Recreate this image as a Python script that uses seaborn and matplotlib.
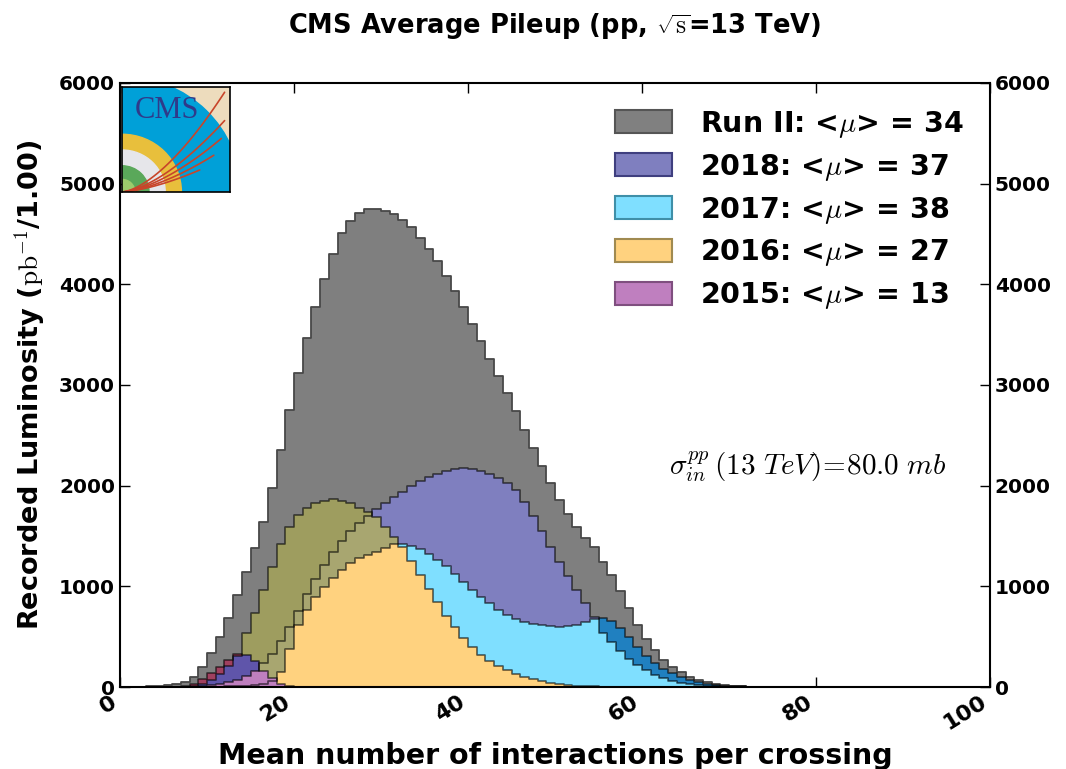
import numpy as np
import pandas as pd
import matplotlib
matplotlib.use("Agg")
import matplotlib.pyplot as plt
from matplotlib.patches import Patch, Wedge, Rectangle
import seaborn as sns

# recorded luminosity per pileup bin (bin width 1, starting at 0), pb^-1
run2 = [0, 1, 3, 6, 10, 16, 26, 45, 103, 195,
        334, 493, 682, 913, 1145, 1377, 1641, 1973, 2353, 2751,
        3121, 3463, 3770, 4052, 4300, 4505, 4628, 4711, 4747, 4750,
        4730, 4700, 4642, 4569, 4465, 4355, 4229, 4081, 3935, 3770,
        3604, 3435, 3263, 3088, 2916, 2741, 2552, 2377, 2198, 2029,
        1860, 1720, 1590, 1480, 1390, 1240, 1110, 950, 780, 620,
        480, 365, 270, 200, 145, 100, 70, 46, 30, 19,
        12, 8, 5, 3, 2, 1, 1, 1]
lumi_2018 = [0, 0, 0, 0, 0, 0, 0, 2, 5, 10,
             18, 30, 45, 70, 110, 160, 235, 330, 460, 600,
             760, 920, 1070, 1210, 1340, 1450, 1550, 1630, 1700, 1770,
             1830, 1890, 1940, 2000, 2045, 2085, 2120, 2145, 2165, 2172,
             2165, 2148, 2115, 2072, 2030, 1960, 1840, 1700, 1550, 1390,
             1240, 1100, 960, 830, 700, 540, 450, 360, 280, 215,
             165, 120, 88, 62, 43, 30, 20, 13, 8, 5,
             3, 2, 1]
lumi_2017 = [0, 0, 0, 0, 0, 0, 0, 0, 0, 0,
             2, 4, 6, 9, 14, 22, 35, 60, 150, 380,
             620, 765, 897, 996, 1079, 1162, 1228, 1278, 1311, 1344,
             1377, 1420, 1420, 1400, 1370, 1320, 1260, 1200, 1120, 1040,
             960, 890, 830, 770, 720, 680, 650, 630, 615, 605,
             600, 605, 620, 650, 680, 690, 660, 590, 500, 400,
             310, 240, 180, 135, 100, 70, 48, 32, 21, 14,
             9, 6, 4, 2, 1]
lumi_2016 = [0, 0, 0, 0, 0, 0, 0, 5, 15, 35,
             70, 130, 210, 310, 533, 738, 963, 1195, 1420, 1592,
             1708, 1781, 1830, 1850, 1864, 1850, 1830, 1774, 1741, 1688,
             1590, 1490, 1390, 1250, 1110, 970, 840, 710, 600, 490,
             400, 320, 260, 210, 165, 130, 100, 75, 55, 40,
             28, 20, 14, 10, 7, 5, 3, 2, 1]
lumi_2015 = [0, 0, 0, 0, 0, 0, 5, 15, 35, 75,
             135, 200, 270, 330, 320, 260, 160, 85, 35, 12,
             4, 1]

labels = ["Run II: <$\\mu$> = 34", "2018: <$\\mu$> = 37", "2017: <$\\mu$> = 38",
          "2016: <$\\mu$> = 27", "2015: <$\\mu$> = 13"]
legend_colors = ["#808080", "#7f7fbf", "#7fdfff", "#ffd27f", "#bf7fbf"]
legend_edges = ["#555555", "#3f3f7f", "#3f8fa8", "#a08a50", "#7f4f7f"]

nbins = 100
edges = np.arange(nbins + 1)
centers = edges[:-1] + 0.5


def pad(vals):
    out = np.zeros(nbins)
    out[:len(vals)] = vals
    return out


R = pad(run2)
years = {"A": pad(lumi_2018), "B": pad(lumi_2017), "C": pad(lumi_2016), "D": pad(lumi_2015)}

# colour of each overlap region (which years cover it)
combo_colors = {
    "A": "#7f7fbf", "B": "#2080c0", "AB": "#7fdfff",
    "C": "#9e9d5f", "AC": "#a8a670", "BC": "#c8aa66", "ABC": "#ffd27f",
    "D": "#a0405f", "AD": "#6a4f9f", "BD": "#6a4f9f", "CD": "#5f55aa",
    "ABD": "#bf7fbf", "ACD": "#bf7fbf", "BCD": "#bf7fbf", "ABCD": "#bf7fbf",
}

sns.set_style("ticks")
plt.rcParams["mathtext.fontset"] = "cm"
plt.rcParams["font.family"] = ["DejaVu Sans"]
plt.rcParams["font.weight"] = "bold"
for k in ["text.color", "axes.labelcolor", "xtick.color", "ytick.color", "axes.edgecolor"]:
    plt.rcParams[k] = "black"

fig = plt.figure(figsize=(10.66, 7.69), dpi=100)
ax = fig.add_axes([0.1126, 0.1066, 0.8161, 0.7855])


def ext(v):
    return np.append(v, v[-1])


ax.fill_between(edges, 0, ext(R), step="post", color="#7f7f7f", lw=0)
for combo, col in combo_colors.items():
    inside = [years[k] for k in combo]
    outside = [years[k] for k in "ABCD" if k not in combo]
    upper = np.min(inside, axis=0)
    lower = np.max(outside, axis=0) if outside else np.zeros(nbins)
    upper = np.maximum(upper, lower)
    ax.fill_between(edges, ext(lower), ext(upper), step="post", color=col, lw=0)

# outlines
df = pd.DataFrame({"pileup": centers, "R": R, "A": years["A"], "B": years["B"],
                   "C": years["C"], "D": years["D"]})
sns.histplot(data=df, x="pileup", weights="R", bins=nbins, binrange=(0, 100),
             element="step", fill=False, color="#484848", linewidth=1.3, ax=ax)
for key in "ABCD":
    sns.histplot(data=df, x="pileup", weights=key, bins=nbins, binrange=(0, 100),
                 element="step", fill=False, color="black", alpha=0.6,
                 linewidth=1.2, ax=ax)

ax.set_xlim(0, 100)
ax.set_ylim(0, 6000)
ax.set_xticks(range(0, 101, 20))
ax.set_yticks(range(0, 6001, 1000))
ax.tick_params(axis="both", direction="in", length=7, width=1, labelsize=14.5,
               top=True, right=True, labelright=True)
ax.tick_params(axis="x", labelsize=16)
for lab in ax.get_xticklabels():
    lab.set_rotation(32)
    lab.set_ha("right")
    lab.set_fontweight("bold")
for lab in ax.get_yticklabels(which="both"):
    lab.set_fontweight("bold")
for sp in ax.spines.values():
    sp.set_linewidth(1.5)

ax.set_xlabel("Mean number of interactions per crossing", fontsize=20.5, fontweight="bold",
              labelpad=6)
ax.set_ylabel("Recorded Luminosity ($\\mathrm{pb}^{-1}$/1.00)", fontsize=19.5,
              fontweight="bold", labelpad=8)
ax.set_title("CMS Average Pileup (pp, $\\sqrt{\\mathrm{s}}$=13 TeV)", fontsize=18.5,
             fontweight="bold", pad=36)

handles = [Patch(facecolor=c, edgecolor=e, linewidth=1.5) for c, e in zip(legend_colors, legend_edges)]
leg = ax.legend(handles, labels, loc="upper right", frameon=False, fontsize=20.5,
                handlelength=2.0, handleheight=0.85, labelspacing=0.42, handletextpad=1.0,
                borderaxespad=0.5)
for t in leg.get_texts():
    t.set_fontweight("bold")

ax.text(79, 2195, "$\\sigma_{in}^{pp}\\,(13\\ TeV)\\!=\\!80.0\\ mb$", fontsize=21,
        ha="center", va="center")

# CMS logo
lax = fig.add_axes([122 / 1066, 1 - 192 / 769, 108 / 1066, 105 / 769])
lax.set_xlim(0, 1)
lax.set_ylim(0, 1)
lax.add_patch(Rectangle((0, 0), 1, 1, color="#eddcbd"))
for r, c in [(1.1, "#00a0d8"), (0.55, "#e8bf3c"), (0.4, "#e6e6ea"),
             (0.25, "#5aa85a"), (0.12, "#9ccc6c")]:
    lax.add_patch(Wedge((0, 0), r, 0, 90, color=c))
for a, b in [(0.95, 0.92), (0.95, 0.65), (0.92, 0.48), (0.85, 0.32), (0.72, 0.18)]:
    tt = np.linspace(0, 1, 30)
    lax.plot(a * tt, b * tt ** 1.6 + 0.03 * tt, color="#c8452a", lw=1.2)
lax.text(0.42, 0.78, "CMS", color="#2f3a8a", fontsize=22, family="Liberation Serif",
         fontweight="normal", ha="center", va="center")
lax.set_xticks([])
lax.set_yticks([])
for sp in lax.spines.values():
    sp.set_linewidth(1.2)

fig.savefig("out.png", dpi=100)
